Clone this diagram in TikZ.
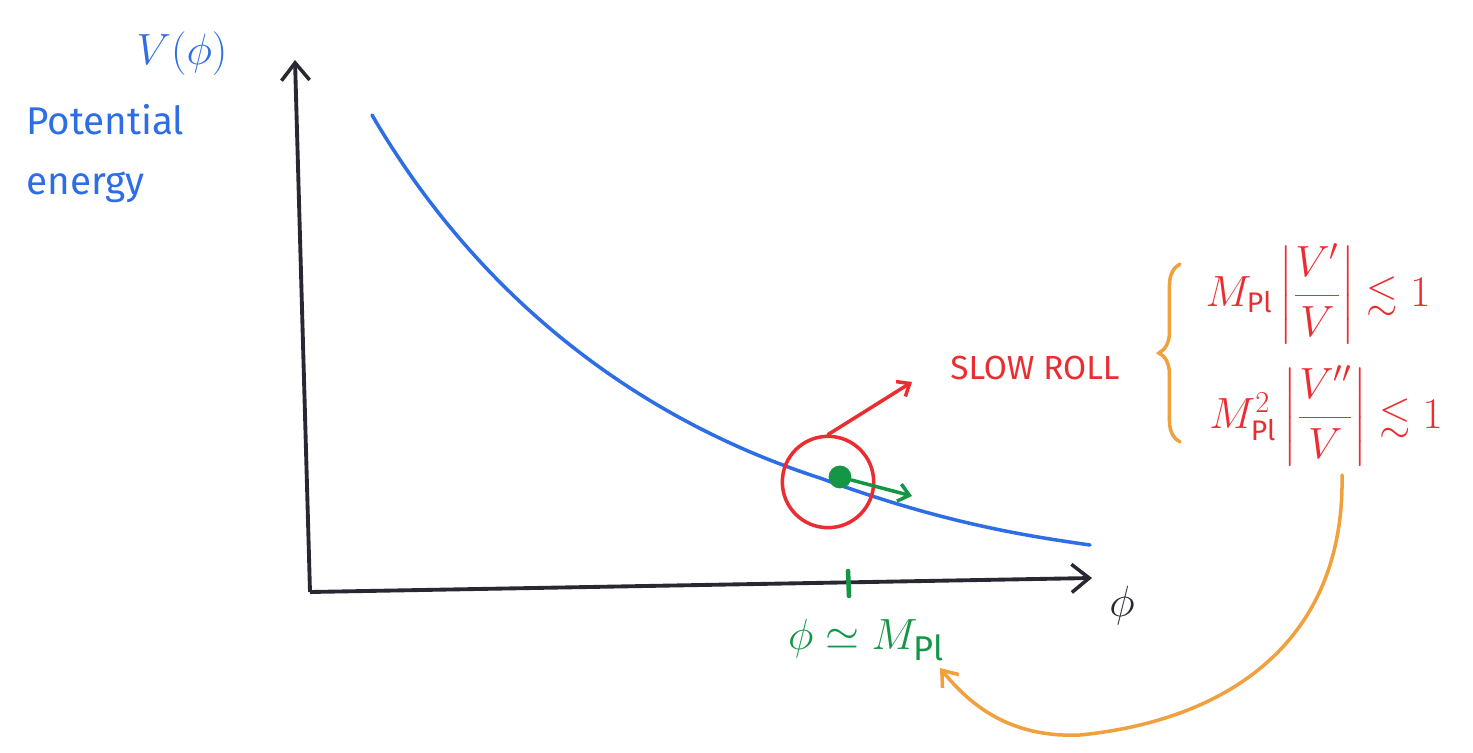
\documentclass[tikz,border=0pt]{standalone}
\usepackage{fontspec}
\setmainfont{Fira Sans}
\usepackage{amsmath,amssymb}
\usetikzlibrary{arrows.meta,decorations.pathreplacing}
\definecolor{penblue}{RGB}{45,110,230}
\definecolor{penred}{RGB}{235,45,50}
\definecolor{pengreen}{RGB}{20,150,70}
\definecolor{penorange}{RGB}{240,160,60}
\definecolor{penblack}{RGB}{40,40,50}
\tikzset{
  axis/.style={penblack, line width=2.2pt, -{Straight Barb[length=10pt,width=16pt,line width=2pt]}},
  pen/.style={line width=2pt, line cap=round},
  lbl/.style={inner sep=0pt},
}
\begin{document}
\begin{tikzpicture}[x=0.02cm,y=-0.02cm]
\useasboundingbox (0,0) rectangle (1473,753);
\fill[white] (0,0) rectangle (1473,753);
% axes
\coordinate (O) at (310,592);
\coordinate (ytop) at (295,60);
\coordinate (xend) at (1092,578);
\draw[axis] (O) -- (ytop);
\draw[axis] (O) -- (xend);
% labels
\node[lbl, text=penblue, font=\fontsize{28}{30}\selectfont] (Vphi) at (182,54) {$V(\phi)$};
\node[lbl, text=penblue, font=\fontsize{22}{34}\selectfont, align=left, anchor=north west] (pe) at (26,104) {Potential\\energy};
\node[lbl, text=penblack, font=\fontsize{30}{32}\selectfont] (phi) at (1122,606) {$\phi$};
% potential curve
\draw[penblue, pen] (372,115) .. controls (480,300) and (640,420) .. (820,478)
  .. controls (940,522) and (1020,535) .. (1090,545) coordinate (cend);
% circle, ball, arrows
\node[draw=penred, line width=2pt, circle, minimum size=52pt, inner sep=0pt] (circ) at (828,482) {};
\node[fill=pengreen, circle, minimum size=13pt, inner sep=0pt] (ball) at (840,477) {};
\coordinate (gtip) at (912,496);
\draw[pengreen, pen, -{Straight Barb[length=6pt,width=10pt,line width=2pt]}] (ball) -- (gtip);
\node[lbl, text=penred, font=\fontsize{19}{20}\selectfont] (slow) at (1035,368) {SLOW ROLL};
\coordinate (rtip) at (912,382);
\draw[penred, pen, -{Straight Barb[length=6pt,width=10pt,line width=2pt]}] (circ.north) -- (rtip);
% tick and field value
\coordinate (tk1) at (848,571);
\coordinate (tk2) at (849,596);
\draw[pengreen, pen, line width=2.6pt] (tk1) -- (tk2);
\node[lbl, text=pengreen, font=\fontsize{28}{30}\selectfont] (val) at (866,640) {$\phi \simeq M_{\mathrm{Pl}}$};
% brace and conditions
\coordinate (b1) at (1180,442);
\coordinate (b2) at (1180,264);
\draw[penorange, pen, decorate, decoration={brace, amplitude=12pt}] (b1) -- (b2);
\node[lbl, text=penred, font=\fontsize{23}{26}\selectfont] (c1) at (1318,294) {$M_{\mathrm{Pl}}\left|\dfrac{V'}{V}\right| \lesssim 1$};
\node[lbl, text=penred, font=\fontsize{23}{26}\selectfont] (c2) at (1326,416) {$M_{\mathrm{Pl}}^2\left|\dfrac{V''}{V}\right| \lesssim 1$};
% orange connector
\coordinate (ostart) at (1342,475);
\coordinate (oend) at (940,668);
\draw[penorange, pen, -{Straight Barb[length=8pt,width=12pt,line width=2pt]}] (ostart) .. controls (1345,640) and (1230,720) .. (1080,735) .. controls (1010,738) and (970,705) .. (oend);
\end{tikzpicture}
\end{document}
